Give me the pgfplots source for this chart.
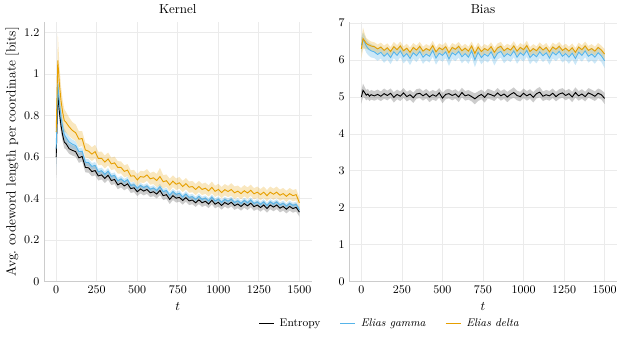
\documentclass[border=0pt]{standalone}
\usepackage{pgfplots}
\pgfplotsset{compat=1.18}
\usepackage{pgfplotstable}
\usepgfplotslibrary{fillbetween}

\definecolor{cblack}{HTML}{000000}
\definecolor{cblue}{HTML}{56B4E9}
\definecolor{corange}{HTML}{E69F00}

% t, mean and half band width per coder
\pgfplotstableread{
t e es g gs d ds
0 0.600 0.100 0.640 0.100 0.720 0.080
10 0.900 0.050 0.950 0.060 1.065 0.130
20 0.815 0.040 0.860 0.050 0.950 0.090
30 0.750 0.035 0.790 0.040 0.870 0.070
40 0.705 0.030 0.745 0.035 0.815 0.060
50 0.672 0.030 0.708 0.030 0.775 0.055
60 0.665 0.028 0.695 0.028 0.768 0.050
80 0.640 0.025 0.672 0.025 0.745 0.045
100 0.632 0.025 0.662 0.022 0.728 0.040
120 0.626 0.025 0.655 0.020 0.717 0.040
140 0.596 0.024 0.626 0.018 0.686 0.038
160 0.603 0.024 0.628 0.018 0.689 0.036
180 0.550 0.024 0.575 0.017 0.634 0.035
200 0.548 0.023 0.573 0.016 0.628 0.034
220 0.530 0.023 0.555 0.016 0.614 0.033
240 0.535 0.023 0.560 0.016 0.626 0.033
260 0.509 0.022 0.529 0.015 0.593 0.032
280 0.514 0.022 0.534 0.015 0.594 0.032
300 0.497 0.022 0.517 0.015 0.576 0.031
320 0.512 0.022 0.532 0.015 0.591 0.031
340 0.487 0.022 0.507 0.014 0.567 0.030
360 0.492 0.022 0.512 0.014 0.572 0.030
380 0.466 0.021 0.486 0.014 0.550 0.030
400 0.475 0.021 0.495 0.014 0.550 0.029
420 0.461 0.021 0.481 0.014 0.531 0.029
440 0.471 0.021 0.491 0.014 0.537 0.029
460 0.448 0.021 0.463 0.014 0.508 0.028
480 0.452 0.021 0.467 0.013 0.510 0.028
500 0.433 0.021 0.450 0.013 0.490 0.028
520 0.446 0.021 0.463 0.013 0.506 0.028
540 0.436 0.021 0.453 0.013 0.503 0.028
560 0.444 0.021 0.461 0.013 0.514 0.028
580 0.428 0.021 0.445 0.013 0.495 0.028
600 0.433 0.021 0.451 0.013 0.500 0.030
620 0.422 0.021 0.439 0.013 0.487 0.032
640 0.439 0.022 0.457 0.014 0.506 0.042
660 0.414 0.021 0.434 0.013 0.481 0.032
680 0.419 0.021 0.439 0.013 0.486 0.030
700 0.396 0.022 0.416 0.014 0.466 0.030
720 0.414 0.021 0.434 0.013 0.484 0.028
740 0.402 0.021 0.420 0.013 0.469 0.028
760 0.406 0.021 0.426 0.013 0.476 0.028
780 0.391 0.020 0.408 0.013 0.458 0.027
800 0.405 0.020 0.422 0.013 0.472 0.027
820 0.389 0.020 0.406 0.013 0.455 0.027
840 0.393 0.020 0.409 0.013 0.458 0.027
860 0.380 0.020 0.396 0.013 0.444 0.027
880 0.394 0.020 0.410 0.013 0.458 0.027
900 0.380 0.020 0.396 0.013 0.444 0.027
920 0.387 0.020 0.402 0.013 0.450 0.027
940 0.374 0.020 0.389 0.013 0.437 0.027
960 0.392 0.020 0.407 0.013 0.454 0.028
980 0.373 0.020 0.388 0.013 0.435 0.027
1000 0.382 0.020 0.397 0.013 0.444 0.027
1020 0.367 0.020 0.382 0.013 0.429 0.027
1040 0.381 0.020 0.396 0.013 0.443 0.027
1060 0.372 0.020 0.387 0.013 0.434 0.027
1080 0.382 0.020 0.397 0.013 0.444 0.030
1100 0.366 0.020 0.381 0.013 0.428 0.030
1120 0.374 0.020 0.389 0.013 0.436 0.027
1140 0.362 0.020 0.377 0.013 0.424 0.027
1160 0.376 0.020 0.391 0.013 0.438 0.027
1180 0.365 0.020 0.380 0.013 0.427 0.027
1200 0.378 0.020 0.393 0.013 0.440 0.027
1220 0.361 0.020 0.376 0.013 0.423 0.027
1240 0.369 0.020 0.384 0.013 0.431 0.027
1260 0.357 0.020 0.372 0.013 0.419 0.027
1280 0.369 0.020 0.384 0.013 0.431 0.027
1300 0.352 0.020 0.367 0.013 0.414 0.027
1320 0.369 0.020 0.384 0.013 0.431 0.027
1340 0.359 0.020 0.374 0.013 0.421 0.027
1360 0.369 0.020 0.384 0.013 0.431 0.027
1380 0.354 0.020 0.369 0.013 0.416 0.027
1400 0.362 0.020 0.377 0.013 0.424 0.027
1420 0.349 0.020 0.364 0.013 0.411 0.027
1440 0.362 0.020 0.377 0.013 0.424 0.027
1460 0.352 0.020 0.367 0.013 0.414 0.027
1480 0.358 0.020 0.372 0.013 0.419 0.027
1500 0.335 0.022 0.345 0.014 0.380 0.025
}\kerntab

\pgfplotstableread{
t e es g gs d ds
0 5.00 0.18 6.400 0.20 6.300 0.25
10 5.18 0.18 6.550 0.20 6.580 0.30
20 5.12 0.15 6.480 0.18 6.520 0.20
30 5.05 0.14 6.380 0.18 6.450 0.15
40 5.08 0.14 6.320 0.18 6.420 0.14
50 5.02 0.13 6.280 0.18 6.400 0.13
60 5.06 0.13 6.250 0.18 6.380 0.12
80 5.03 0.13 6.220 0.17 6.360 0.12
100 5.07 0.13 6.150 0.17 6.300 0.12
120 5.02 0.13 6.210 0.17 6.350 0.12
140 5.09 0.14 6.102 0.18 6.260 0.13
160 5.04 0.13 6.186 0.17 6.330 0.12
180 5.10 0.13 6.066 0.18 6.230 0.12
200 4.99 0.14 6.222 0.17 6.360 0.13
220 5.07 0.13 6.126 0.17 6.280 0.12
240 5.02 0.13 6.246 0.17 6.380 0.12
260 5.11 0.13 6.090 0.18 6.250 0.12
280 5.01 0.13 6.174 0.17 6.320 0.12
300 5.06 0.13 6.042 0.18 6.210 0.13
320 4.98 0.14 6.198 0.17 6.340 0.12
340 5.08 0.13 6.114 0.17 6.270 0.12
360 5.10 0.13 6.234 0.17 6.370 0.12
380 5.03 0.13 6.078 0.18 6.240 0.12
400 5.09 0.13 6.162 0.17 6.310 0.12
420 5.00 0.14 6.102 0.17 6.260 0.12
440 5.06 0.13 6.258 0.17 6.390 0.13
460 5.02 0.13 6.054 0.18 6.220 0.12
480 5.11 0.13 6.186 0.17 6.330 0.12
500 4.97 0.14 6.126 0.17 6.280 0.12
520 5.07 0.13 6.222 0.17 6.360 0.12
540 5.09 0.13 6.030 0.19 6.200 0.13
560 5.04 0.13 6.198 0.17 6.340 0.12
580 5.08 0.13 6.138 0.17 6.290 0.12
600 5.00 0.14 6.234 0.17 6.370 0.12
620 5.12 0.13 6.090 0.18 6.250 0.12
640 5.03 0.13 6.174 0.17 6.320 0.12
660 5.06 0.13 6.078 0.18 6.240 0.12
680 5.01 0.13 6.246 0.17 6.380 0.12
700 4.95 0.15 6.006 0.20 6.180 0.14
720 5.02 0.13 6.210 0.17 6.350 0.12
740 5.07 0.13 6.066 0.18 6.230 0.12
760 4.99 0.14 6.162 0.17 6.310 0.12
780 5.09 0.13 6.102 0.17 6.260 0.12
800 5.06 0.13 6.222 0.17 6.360 0.12
820 5.02 0.13 6.042 0.19 6.210 0.13
840 5.11 0.13 6.186 0.17 6.330 0.12
860 5.03 0.13 6.234 0.17 6.370 0.12
880 5.08 0.13 6.090 0.18 6.250 0.12
900 5.00 0.14 6.174 0.17 6.320 0.12
920 5.07 0.13 6.114 0.17 6.270 0.12
940 5.12 0.14 6.246 0.17 6.380 0.13
960 5.04 0.13 6.078 0.18 6.240 0.12
980 5.01 0.13 6.198 0.17 6.340 0.12
1000 5.10 0.13 6.126 0.17 6.280 0.12
1020 5.03 0.13 6.258 0.17 6.390 0.13
1040 5.08 0.13 6.066 0.18 6.230 0.12
1060 4.99 0.14 6.162 0.17 6.310 0.12
1080 5.09 0.13 6.090 0.18 6.250 0.12
1100 5.13 0.14 6.222 0.17 6.360 0.12
1120 5.02 0.13 6.114 0.17 6.270 0.12
1140 5.06 0.13 6.198 0.17 6.340 0.12
1160 5.03 0.13 6.054 0.18 6.220 0.12
1180 5.10 0.13 6.210 0.17 6.350 0.12
1200 5.01 0.13 6.138 0.17 6.290 0.12
1220 5.08 0.13 6.234 0.17 6.370 0.12
1240 5.11 0.13 6.102 0.17 6.260 0.12
1260 5.04 0.13 6.174 0.17 6.320 0.12
1280 5.09 0.13 6.078 0.18 6.240 0.12
1300 5.00 0.14 6.186 0.17 6.330 0.12
1320 5.12 0.14 6.042 0.18 6.210 0.12
1340 5.03 0.13 6.210 0.17 6.350 0.12
1360 5.08 0.13 6.126 0.17 6.280 0.12
1380 5.01 0.13 6.246 0.17 6.380 0.12
1400 5.11 0.13 6.102 0.17 6.260 0.12
1420 5.07 0.13 6.162 0.17 6.310 0.12
1440 5.02 0.13 6.078 0.18 6.240 0.12
1460 5.10 0.13 6.198 0.17 6.340 0.12
1480 5.06 0.13 6.114 0.17 6.270 0.12
1500 4.96 0.15 5.982 0.20 6.160 0.14
}\biastab

% mean line with shaded band: table, mean col, half width col, colour, opacity
\newcommand{\bandline}[5]{%
  \addplot[draw=none, forget plot, name path=#2up] table[x=t, y expr=\thisrow{#2}+\thisrow{#3}] {#1};
  \addplot[draw=none, forget plot, name path=#2lo] table[x=t, y expr=\thisrow{#2}-\thisrow{#3}] {#1};
  \addplot[fill=#4, fill opacity=#5, draw=none, forget plot] fill between[of=#2up and #2lo];
  \addplot[#4, line width=0.7pt] table[x=t, y=#2] {#1};
}

\pgfplotsset{
  panel/.style={
    scale only axis, width=206pt, height=200pt,
    xmin=-75, xmax=1575, ymin=0,
    xtick={0,250,500,750,1000,1250,1500},
    /pgf/number format/1000 sep={},
    axis x line*=bottom, axis y line*=left,
    axis line style={draw=gray!40, -},
    major tick length=0pt,
    grid=major, grid style={draw=black!8, line width=0.6pt},
    xlabel={$t$},
    title style={yshift=-3pt},
    tick label style={font=\fontsize{9.2}{11}\selectfont},
    label style={font=\fontsize{10.3}{12}\selectfont},
  }
}

\begin{document}
\begin{tikzpicture}
\begin{axis}[panel, name=k, at={(0pt,0pt)}, anchor=south west,
  ymax=1.25, ytick={0,0.2,0.4,0.6,0.8,1,1.2},
  title={Kernel}, ylabel shift={-3pt},
  ylabel={Avg.\ codeword length per coordinate [bits]}]
\bandline{\kerntab}{e}{es}{cblack}{0.2}
\bandline{\kerntab}{g}{gs}{cblue}{0.3}
\bandline{\kerntab}{d}{ds}{corange}{0.25}
\end{axis}

\begin{axis}[panel, name=b, at={(235pt,0pt)}, anchor=south west,
  ymax=7.03, ytick={0,1,2,3,4,5,6,7},
  title={Bias},
  legend columns=3,
  legend style={at={(0.153,-0.16)}, anchor=center, draw=none, fill=none,
    font=\fontsize{8.6}{10}\selectfont,
    /tikz/every odd column/.append style={column sep=2pt},
    /tikz/every even column/.append style={column sep=13pt}},
  legend image code/.code={\draw[#1, line width=0.7pt] (0pt,0pt) -- (11.5pt,0pt);}]
\bandline{\biastab}{e}{es}{cblack}{0.2}
\bandline{\biastab}{g}{gs}{cblue}{0.3}
\bandline{\biastab}{d}{ds}{corange}{0.25}
\legend{Entropy, \textit{Elias gamma}, \textit{Elias delta}}
\end{axis}

\path (-33.9pt,-44.7pt) rectangle (445.8pt,213.3pt);
\end{tikzpicture}
\end{document}
